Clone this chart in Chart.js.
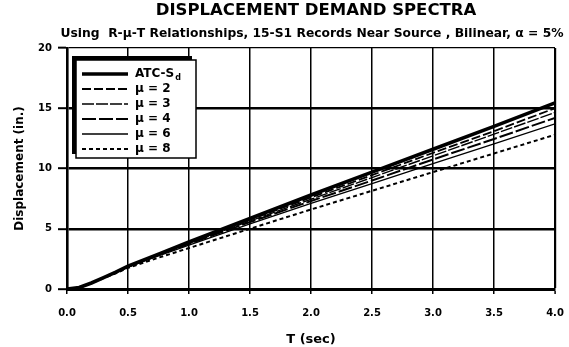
<!DOCTYPE html>
<html>
<head>
<meta charset="utf-8">
<script src="https://cdn.jsdelivr.net/npm/chart.js@4.4.1/dist/chart.umd.min.js"></script>
<style>
  html, body { margin: 0; padding: 0; background: #fff; }
  #wrap { width: 569px; height: 347px; }
</style>
</head>
<body>
<div id="wrap"><canvas id="spectra" width="569" height="347"></canvas></div>
<script>
// periods (sec)
const periods = [0, 0.1, 0.2, 0.3, 0.4, 0.5, 0.75, 1.0, 1.5, 2.0, 2.5, 3.0, 3.5, 4.0];

// displacement (in.)
const atcSd = [0, 0.12, 0.5, 0.95, 1.4, 1.9, 2.9, 3.9, 5.85, 7.8, 9.7, 11.6, 13.5, 15.45];
const mu2   = [0, 0.12, 0.5, 0.95, 1.4, 1.88, 2.88, 3.85, 5.75, 7.6, 9.45, 11.3, 13.1, 15.0];
const mu3   = [0, 0.12, 0.5, 0.95, 1.4, 1.87, 2.85, 3.8, 5.65, 7.45, 9.25, 11.05, 12.85, 14.65];
const mu4   = [0, 0.12, 0.5, 0.95, 1.38, 1.85, 2.82, 3.75, 5.55, 7.3, 9.0, 10.75, 12.45, 14.2];
const mu6   = [0, 0.12, 0.5, 0.93, 1.36, 1.82, 2.75, 3.65, 5.4, 7.1, 8.75, 10.4, 12.05, 13.7];
const mu8   = [0, 0.12, 0.48, 0.9, 1.3, 1.75, 2.6, 3.4, 5.0, 6.6, 8.15, 9.7, 11.25, 12.8];

const seriesNames = ['ATC-S', '\u03bc = 2', '\u03bc = 3', '\u03bc = 4', '\u03bc = 6', '\u03bc = 8'];
const seriesSub   = ['d', '', '', '', '', ''];

const xTicks = [0, 0.5, 1.0, 1.5, 2.0, 2.5, 3.0, 3.5, 4.0];
const yTicks = [0, 5, 10, 15, 20];

const title = 'DISPLACEMENT DEMAND SPECTRA';
const subtitle = 'Using  R-\u03bc-T Relationships, 15-S1 Records Near Source , Bilinear, \u03b1 = 5%';

const FONT = 'DejaVu Sans';
Chart.defaults.font.family = FONT;
Chart.defaults.font.weight = 'bold';
Chart.defaults.color = '#000';

const toPoints = vals => periods.map((t, i) => ({ x: t, y: vals[i] }));

const styles = [
  { w: 3.6, dash: [] },
  { w: 1.8, dash: [9, 3] },
  { w: 1.4, dash: [12, 2] },
  { w: 2.0, dash: [14, 3] },
  { w: 1.3, dash: [] },
  { w: 2.0, dash: [4, 3] },
];
const allSeries = [atcSd, mu2, mu3, mu4, mu6, mu8];

const datasets = allSeries.map((vals, i) => ({
  label: seriesNames[i],
  data: toPoints(vals),
  borderColor: '#000',
  borderWidth: styles[i].w,
  borderDash: styles[i].dash,
  pointRadius: 0,
  tension: 0,
  fill: false,
}));

// titles drawn at fixed spots above the plot
const titlesPlugin = {
  id: 'titles',
  afterDraw(chart) {
    const c = chart.ctx;
    c.save();
    c.fillStyle = '#000';
    c.textAlign = 'center';
    c.textBaseline = 'middle';
    c.font = `bold 16.5px "${FONT}"`;
    c.fillText(title, 316, 11);
    c.font = `bold 12.3px "${FONT}"`;
    c.fillText(subtitle, 312, 34);
    c.restore();
  }
};

// boxed legend with a shadow, inside the plot, top left
const legendPlugin = {
  id: 'boxLegend',
  afterDatasetsDraw(chart) {
    const c = chart.ctx;
    c.save();
    c.fillStyle = '#000';
    c.fillRect(72, 56, 120, 98);
    c.fillStyle = '#fff';
    c.fillRect(76, 60, 120, 98);
    c.strokeStyle = '#000';
    c.lineWidth = 1.5;
    c.strokeRect(76, 60, 120, 98);

    chart.data.datasets.forEach((ds, i) => {
      const y = 74 + i * 15;
      c.beginPath();
      c.lineWidth = ds.borderWidth;
      c.setLineDash(ds.borderDash);
      c.moveTo(82, y);
      c.lineTo(128, y);
      c.stroke();
      c.setLineDash([]);
      c.fillStyle = '#000';
      c.textAlign = 'left';
      c.textBaseline = 'middle';
      c.font = `bold 12px "${FONT}"`;
      c.fillText(ds.label, 135, y);
      if (seriesSub[i]) {
        const w = c.measureText(ds.label).width;
        c.font = `bold 8px "${FONT}"`;
        c.fillText(seriesSub[i], 135 + w + 1, y + 4);
      }
    });
    c.restore();
  }
};

const ctx = document.getElementById('spectra').getContext('2d');
new Chart(ctx, {
  type: 'line',
  data: { datasets },
  options: {
    responsive: false,
    animation: false,
    devicePixelRatio: 1,
    layout: { padding: { top: 48, right: 14, left: 0, bottom: 0 } },
    plugins: {
      legend: { display: false },
      tooltip: { enabled: false },
    },
    scales: {
      x: {
        type: 'linear',
        min: 0,
        max: 4,
        afterFit: s => { s.height = 58; s.paddingLeft = 0; s.paddingRight = 0; },
        afterBuildTicks: s => { s.ticks = xTicks.map(v => ({ value: v })); },
        ticks: {
          padding: 13,
          font: { size: 10, weight: 'bold' },
          callback: v => v.toFixed(1),
        },
        grid: {
          color: '#000',
          lineWidth: ctx => (ctx.tick && ctx.tick.value === 4 ? 2.2 : 1.5),
          tickLength: 5,
          tickWidth: 1.5,
        },
        border: { color: '#000', width: 3 },
        title: {
          display: true,
          text: 'T (sec)',
          font: { size: 13, weight: 'bold' },
          padding: { top: 4, bottom: 0 },
        },
      },
      y: {
        min: 0,
        max: 20,
        afterFit: s => { s.width = 67; s.paddingTop = 0; s.paddingBottom = 0; },
        afterBuildTicks: s => { s.ticks = yTicks.map(v => ({ value: v })); },
        ticks: {
          padding: 6,
          font: { size: 10, weight: 'bold' },
        },
        grid: {
          color: '#000',
          lineWidth: ctx => (ctx.tick && ctx.tick.value === 20 ? 1.3 : 2.4),
          tickLength: 9,
          tickWidth: 2,
        },
        border: { color: '#000', width: 2.6 },
        title: {
          display: true,
          text: 'Displacement (in.)',
          font: { size: 12, weight: 'bold' },
          padding: { top: 13, bottom: 0 },
        },
      },
    },
  },
  plugins: [titlesPlugin, legendPlugin],
});
</script>
</body>
</html>
